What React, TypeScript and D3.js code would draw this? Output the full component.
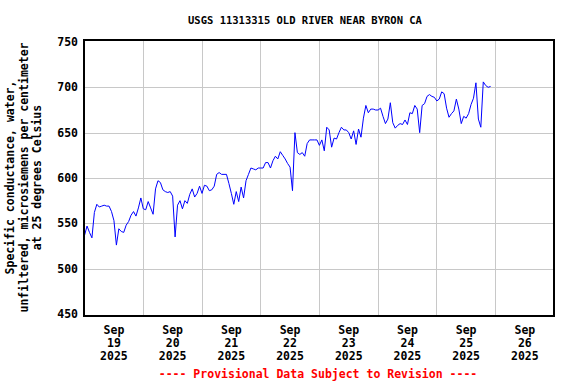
import React from "react";
import * as d3 from "d3";

const title = "USGS 11313315 OLD RIVER NEAR BYRON CA";
const yLabelLines = [
  "Specific conductance, water,",
  "unfiltered, microsiemens per centimeter",
  "at 25 degrees Celsius",
];
const footer = "---- Provisional Data Subject to Revision ----";
const yTicks = [450, 500, 550, 600, 650, 700, 750];
const xDomain = ["2025-09-19T00:00", "2025-09-27T00:00"];
const dayTicks = [
  "2025-09-19", "2025-09-20", "2025-09-21", "2025-09-22",
  "2025-09-23", "2025-09-24", "2025-09-25", "2025-09-26",
];
const startTime = "2025-09-19T00:00";
const stepHours = 1;
// hourly specific conductance values
const values = [
  537, 547, 540, 534, 562, 571, 568, 569, 570, 569, 569, 563,
  553, 526, 544, 541, 540, 548, 552, 559, 563, 558, 567, 578,
  566, 565, 574, 567, 560, 588, 597, 595, 587, 585, 584, 585,
  580, 535, 570, 575, 566, 575, 572, 582, 588, 579, 583, 591,
  583, 592, 591, 586, 587, 591, 604, 606, 604, 604, 604, 594,
  583, 571, 585, 574, 590, 578, 597, 604, 611, 610, 609, 611,
  611, 611, 617, 617, 611, 619, 624, 621, 629, 625, 621, 616,
  612, 586, 650, 628, 626, 628, 624, 638, 642, 642, 642, 642,
  636, 642, 630, 656, 653, 634, 644, 643, 650, 656, 653, 653,
  650, 643, 652, 637, 654, 645, 666, 680, 672, 676, 676, 675,
  675, 677, 668, 660, 665, 683, 661, 655, 658, 660, 659, 664,
  659, 672, 671, 680, 676, 650, 680, 682, 690, 692, 690, 689,
  685, 687, 695, 693, 677, 667, 671, 674, 687, 676, 660, 668,
  666, 671, 681, 688, 705, 665, 656, 706, 702, 700, 701,
];

const FONT = "'DejaVu Sans Mono', monospace";

export default function App() {
  const W = 576;
  const H = 384;
  const parse = d3.timeParse("%Y-%m-%dT%H:%M");
  const parseDay = d3.timeParse("%Y-%m-%d");
  const t0 = parse(startTime) as Date;
  const x = d3
    .scaleTime()
    .domain([parse(xDomain[0]) as Date, parse(xDomain[1]) as Date])
    .range([84.6, 554.2]);
  const y = d3.scaleLinear().domain([450, 750]).range([314, 42]);

  const pts = values.map((v, i) => ({
    t: d3.timeHour.offset(t0, i * stepHours),
    v,
  }));
  const line = d3
    .line<{ t: Date; v: number }>()
    .x((d) => x(d.t))
    .y((d) => y(d.v));

  const days = dayTicks.map((d) => parseDay(d) as Date);
  const fmtMon = d3.timeFormat("%b");
  const fmtDay = d3.timeFormat("%d");
  const fmtYear = d3.timeFormat("%Y");

  return (
    <svg
      width={W}
      height={H}
      style={{ position: "absolute", left: 0, top: 0, background: "#fff" }}
    >
      <rect x={0} y={0} width={W} height={H} fill="#fff" />
      {/* grid */}
      {yTicks.slice(1, -1).map((t) => (
        <line
          key={"gy" + t}
          x1={84}
          x2={554}
          y1={Math.round(y(t)) + 0.5}
          y2={Math.round(y(t)) + 0.5}
          stroke="#c8c8c8"
          strokeWidth={1}
        />
      ))}
      {days.slice(1).map((d, i) => (
        <line
          key={"gx" + i}
          x1={Math.floor(x(d)) + 0.5}
          x2={Math.floor(x(d)) + 0.5}
          y1={40}
          y2={316}
          stroke="#c8c8c8"
          strokeWidth={1}
        />
      ))}
      {/* data */}
      <path d={line(pts) || ""} fill="none" stroke="#0000ff" strokeWidth={1} />
      {/* frame */}
      <rect
        x={84}
        y={40}
        width={470}
        height={276}
        fill="none"
        stroke="#000"
        strokeWidth={2}
      />
      {/* y tick labels */}
      {yTicks.map((t) => (
        <text
          key={"yl" + t}
          x={78}
          y={y(t)}
          dy="0.36em"
          textAnchor="end"
          fontFamily={FONT}
          fontWeight="bold"
          fontSize={11.5}
          fill="#000"
        >
          {t}
        </text>
      ))}
      {/* x tick labels */}
      {days.map((d, i) => {
        const cx = x(d3.timeHour.offset(d, 12));
        return (
          <g key={"xl" + i} fontFamily={FONT} fontWeight="bold" fontSize={11.5} textAnchor="middle" fill="#000">
            <text x={cx} y={334}>{fmtMon(d)}</text>
            <text x={cx} y={347}>{fmtDay(d)}</text>
            <text x={cx} y={360}>{fmtYear(d)}</text>
          </g>
        );
      })}
      {/* y axis title */}
      {yLabelLines.map((s, i) => (
        <text
          key={"yt" + i}
          transform={`translate(${[14, 28, 41][i]},177.5) rotate(-90)`}
          textAnchor="middle"
          fontFamily={FONT}
          fontWeight="bold"
          fontSize={11.5}
          fill="#000"
        >
          {s}
        </text>
      ))}
      {/* title */}
      <text
        x={305}
        y={24}
        textAnchor="middle"
        fontFamily={FONT}
        fontWeight="bold"
        fontSize={10.5}
        fill="#000"
      >
        {title}
      </text>
      {/* footer */}
      <text
        x={318}
        y={378}
        textAnchor="middle"
        fontFamily={FONT}
        fontWeight="bold"
        fontSize={11.5}
        fill="#ff0000"
      >
        {footer}
      </text>
    </svg>
  );
}
